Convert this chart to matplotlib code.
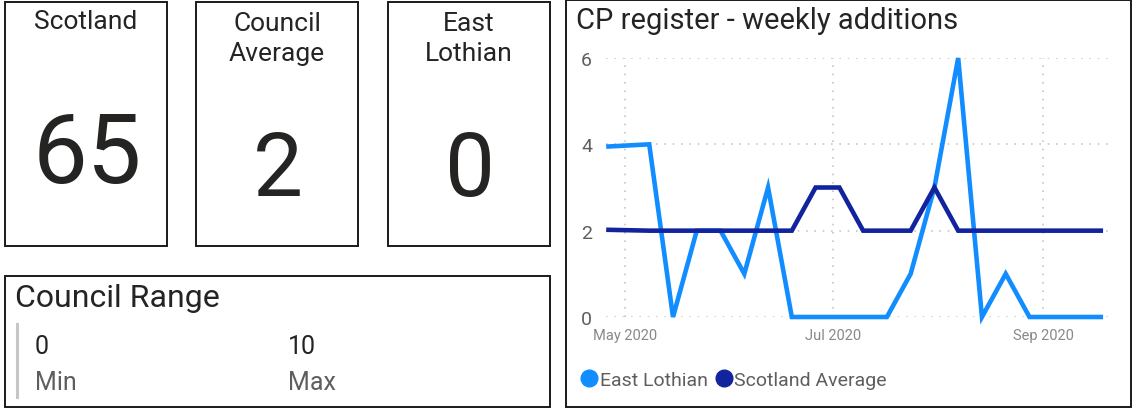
import datetime as dt
import matplotlib
matplotlib.use('Agg')
import matplotlib.pyplot as plt
import matplotlib.dates as mdates
from matplotlib.lines import Line2D
from matplotlib.patches import Rectangle

# card values
card_titles = ['Scotland', 'Council\nAverage', 'East\nLothian']
card_values = ['65', '2', '0']

range_labels = ['Min', 'Max']
range_values = ['0', '10']

# weekly additions
weeks = ['2020-04-26', '2020-05-08', '2020-05-15', '2020-05-22', '2020-05-29',
         '2020-06-05', '2020-06-12', '2020-06-19', '2020-06-26', '2020-07-03',
         '2020-07-10', '2020-07-17', '2020-07-24', '2020-07-31', '2020-08-07',
         '2020-08-14', '2020-08-21', '2020-08-28', '2020-09-04', '2020-09-11',
         '2020-09-18']
east_lothian = [3.95, 4, 0, 2, 2, 1, 3, 0, 0, 0, 0, 0, 1, 3, 6, 0, 1, 0, 0, 0, 0]
scotland_avg = [2.02, 2, 2, 2, 2, 2, 2, 2, 3, 3, 2, 2, 2, 3, 2, 2, 2, 2, 2, 2, 2]

dates = [dt.datetime.strptime(d, '%Y-%m-%d') for d in weeks]

W, H = 1133, 410
plt.rcParams['font.family'] = ['Roboto', 'DejaVu Sans']
fig = plt.figure(figsize=(W / 100, H / 100), dpi=100)
fig.patch.set_facecolor('white')

DARK = '#252423'
GREY = '#605E5C'


def px(x, y):
    return x / W, 1 - y / H


def box(x0, y0, x1, y1):
    fx, fy = px(x0, y1)
    fig.patches.append(Rectangle((fx, fy), (x1 - x0) / W, (y1 - y0) / H,
                                 transform=fig.transFigure, fill=False,
                                 edgecolor='#1a1a1a', linewidth=1.4))


# cards
card_x = [(5, 167), (196, 358), (388, 550)]
value_y = [157, 172, 172]
value_size = [70, 64, 64]
for (x0, x1), title, val, vy, vs in zip(card_x, card_titles, card_values, value_y, value_size):
    box(x0, 3, x1, 247)
    cx = (x0 + x1) / 2
    fig.text(*px(cx, 39 if '\n' in title else 22), title, ha='center', va='center',
             fontsize=19, color=DARK, linespacing=1.35)
    fig.text(*px(cx + 1, vy), val, ha='center', va='center', fontsize=vs, color=DARK)

# council range
box(5, 277, 550, 408)
fig.text(*px(15, 299), 'Council Range', ha='left', va='center', fontsize=23, color=DARK)
fig.lines.append(Line2D([17 / W, 17 / W], [1 - 325 / H, 1 - 398 / H],
                        transform=fig.transFigure, color='#C8C6C4', linewidth=2.2))
for x, v, l in zip([35, 288], range_values, range_labels):
    fig.text(*px(x, 347), v, ha='left', va='center', fontsize=18, color=DARK)
    fig.text(*px(x, 383), l, ha='left', va='center', fontsize=18, color=GREY)

# line chart panel
box(566, 1, 1131, 408)
fig.text(*px(576, 21), 'CP register - weekly additions', ha='left', va='center',
         fontsize=21, color=DARK)

ax_l, ax_r, ax_t, ax_b = 606, 1113, 59, 318
ax = fig.add_axes([ax_l / W, 1 - ax_b / H, (ax_r - ax_l) / W, (ax_b - ax_t) / H])
first = mdates.date2num(dates[0])
ppd = 3.395
ax.set_xlim(first - (608.5 - ax_l) / ppd, first + (ax_r - 608.5) / ppd)
ax.set_ylim(0, 6)

ax.plot(dates, east_lothian, color='#118DFF', linewidth=3.3, clip_on=False,
        solid_joinstyle='miter', zorder=3)
ax.plot(dates, scotland_avg, color='#12239E', linewidth=3.3, clip_on=False,
        solid_joinstyle='miter', zorder=4)

ax.set_yticks([0, 2, 4, 6])
ax.xaxis.set_major_locator(mdates.MonthLocator(bymonth=[5, 7, 9]))
ax.xaxis.set_major_formatter(mdates.DateFormatter('%b %Y'))
ax.tick_params(axis='y', length=0, pad=10, labelsize=14, labelcolor=GREY)
ax.tick_params(axis='x', length=0, pad=8, labelsize=10.5, labelcolor='#8A8886')
ax.grid(True, color='#C8C6C4', linestyle=(0, (1, 4)), linewidth=1.2)
for s in ax.spines.values():
    s.set_visible(False)

handles = [Line2D([], [], marker='o', linestyle='', markersize=12, color='#118DFF'),
           Line2D([], [], marker='o', linestyle='', markersize=12, color='#12239E')]
leg = fig.legend(handles, ['East Lothian', 'Scotland Average'], loc='center left',
                 bbox_to_anchor=px(566, 381), ncol=2, frameon=False, fontsize=14,
                 handlelength=0.6, handletextpad=0.25, columnspacing=0.5)
for t in leg.get_texts():
    t.set_color(GREY)

fig.savefig('out.png', dpi=100)
